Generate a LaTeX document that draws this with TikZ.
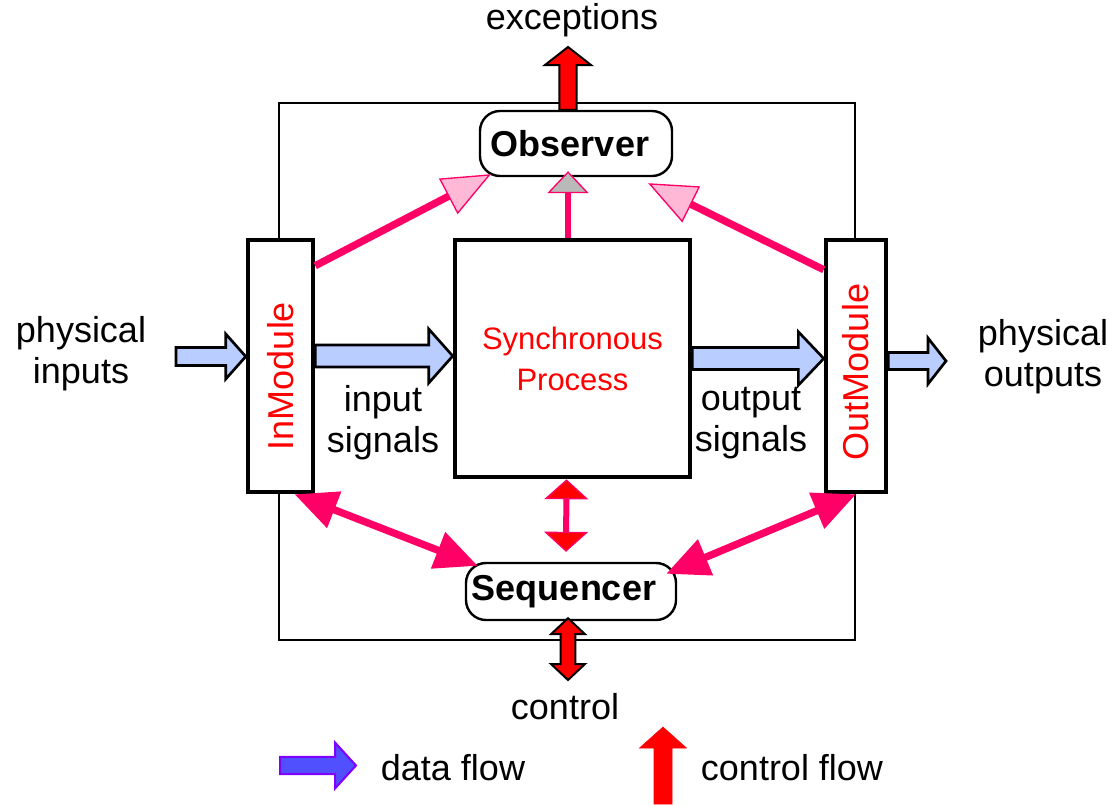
\documentclass[tikz,border=0pt]{standalone}
\usepackage{fontspec}
\setmainfont{Liberation Sans}
\usetikzlibrary{arrows.meta,calc}

\definecolor{ctrlpink}{RGB}{255,0,102}
\definecolor{headpink}{RGB}{255,185,215}
\definecolor{datablue}{RGB}{185,205,255}
\definecolor{legendblue}{RGB}{80,80,255}
\definecolor{legendpurple}{RGB}{128,0,255}

% block arrows: [style]{from}{to}{shaft half width}{head half width}{head length}
\newcommand{\rightflow}[6][]{%
  \draw[#1] let \p1=(#2), \p2=(#3) in
    (\x1,\y1+#4) -- (\x2-#6,\y1+#4) -- (\x2-#6,\y1+#5) -- (\x2,\y1)
    -- (\x2-#6,\y1-#5) -- (\x2-#6,\y1-#4) -- (\x1,\y1-#4) -- cycle;}
\newcommand{\upflow}[6][]{%
  \draw[#1] let \p1=(#2), \p2=(#3) in
    (\x1+#4,\y1) -- (\x1+#4,\y2-#6) -- (\x1+#5,\y2-#6) -- (\x1,\y2)
    -- (\x1-#5,\y2-#6) -- (\x1-#4,\y2-#6) -- (\x1-#4,\y1) -- cycle;}
\newcommand{\updownflow}[6][]{%
  \draw[#1] let \p1=(#2), \p2=(#3) in
    (\x1,\y1) -- (\x1+#5,\y1-#6) -- (\x1+#4,\y1-#6) -- (\x1+#4,\y2+#6)
    -- (\x1+#5,\y2+#6) -- (\x1,\y2) -- (\x1-#5,\y2+#6) -- (\x1-#4,\y2+#6)
    -- (\x1-#4,\y1-#6) -- (\x1-#5,\y1-#6) -- cycle;}

\begin{document}
\begin{tikzpicture}[x=0.75pt,y=-0.75pt,
  every node/.style={font=\fontsize{27}{30.75}\selectfont},
  modbox/.style={draw,line width=3.4pt,fill=white,inner sep=0pt,minimum width=#1,minimum height=189pt},
  roundbox/.style={draw,line width=1.8pt,fill=white,rounded corners=15pt,inner sep=0pt},
  dataflow/.style={draw=black,fill=datablue,line width=2pt},
  redflow/.style={draw=black,fill=red,line width=1.5pt},
  ctrlline/.style={draw=ctrlpink,line width=5.5pt},
  openhead/.style={-{Triangle[length=36pt,width=30pt,fill=headpink,line width=1pt]}},
  solidheads/.style={{Triangle[length=32pt,width=28pt]}-{Triangle[length=32pt,width=28pt]}}
]
\useasboundingbox (0,0) rectangle (1114,804);

% frame
\draw[line width=1.5pt] (279,103) rectangle (855,640);

% blocks
\node[modbox=48.75pt] (inmod) at (280.5,366) {\rotatebox{90}{\textcolor{red}{InModule}\hspace*{15pt}}};
\node[modbox=45pt] (outmod) at (856,366) {\rotatebox{90}{\textcolor{red}{OutModule}\hspace*{9pt}}};
\node[draw,line width=3.4pt,fill=white,inner sep=0pt,minimum width=176.25pt,minimum height=177.75pt,
      align=center,text=red,font=\fontsize{23.25}{30.75}\selectfont] (proc) at (572.5,358.5) {Synchronous\\Process};
\node[roundbox,minimum width=144pt,minimum height=48.75pt] (obs) at (576,143.5) {\textbf{Observer}\hspace*{9pt}};
\node[roundbox,minimum width=157.5pt,minimum height=42.75pt] (seq) at (571,591.5) {\textbf{Sequencer}\hspace*{10.5pt}};

% labels
\node[align=center] (physin) at (81,354) {physical\\inputs};
\node[align=center] (physout) at (1043,357) {physical\\outputs};
\node[align=center] (insig) at (383,423) {input\\signals};
\node[align=center] (outsig) at (751,423) {output\\signals};
\node (exc) at (572,20) {exceptions};
\node (ctrltext) at (565,707) {control};
\node (dataleg) at (453,768) {data flow};
\node (ctrlleg) at (792,768) {control flow};

% free ends
\coordinate (physintail) at (176,356.5);
\coordinate (physouttip) at (946,361);
\coordinate (exctip) at (568,47);
\coordinate (ctrlend) at (568,680);
\coordinate (datalegtail) at (280,765.5);
\coordinate (datalegtip) at (356,765.5);
\coordinate (ctrllegtail) at (663,804);
\coordinate (ctrllegtip) at (663,727);

% data flow
\rightflow[dataflow]{physintail}{inmod.west}{6.75pt}{16.9pt}{15pt}
\rightflow[dataflow]{$(inmod.east)+(0,-10)$}{proc.west}{8.25pt}{20.25pt}{18pt}
\rightflow[dataflow]{proc.east}{outmod.west}{8.25pt}{20pt}{19pt}
\rightflow[dataflow]{$(outmod.east)+(0,-5)$}{physouttip}{6.4pt}{17.25pt}{13.5pt}

% control flow
\upflow[redflow]{$(obs.north)+(-8,0)$}{exctip}{6.4pt}{17.25pt}{13.5pt}
\updownflow[redflow]{$(seq.south)+(-3,-3)$}{ctrlend}{5.6pt}{12.75pt}{12pt}

\draw[ctrlline,openhead] ($(inmod.north east)+(0,28)$) -- ($(obs.south west)+(12,-3)$);
\draw[ctrlline,openhead] ($(outmod.north west)+(0,32)$) -- ($(obs.south east)+(-25,6)$);
\draw[ctrlline,line width=4.5pt,-{Triangle[length=16.5pt,width=31pt,fill=gray!55,line width=1pt]}]
  ($(proc.north)+(-4.5,0)$) -- ($(obs.south)+(-8,-6)$);

\draw[ctrlline,solidheads] ($(inmod.south)+(14,0)$) -- ($(seq.north west)+(13,4)$);
\draw[ctrlline,solidheads] (outmod.south) -- ($(seq.north east)+(-11,12)$);
\draw[ctrlline,line width=4.5pt,{Triangle[length=15pt,width=33pt,fill=red,line width=1pt]}-{Triangle[length=15pt,width=33pt,fill=red,line width=1pt]}]
  ($(proc.south)+(-6,0)$) -- ($(seq.north)+(-5,-10)$);

% legend
\rightflow[draw=legendpurple,fill=legendblue,line width=1.5pt]{datalegtail}{datalegtip}{6.4pt}{17.25pt}{15.75pt}
\upflow[draw=red,fill=red]{ctrllegtail}{ctrllegtip}{6.75pt}{17.6pt}{15.75pt}
\end{tikzpicture}
\end{document}
